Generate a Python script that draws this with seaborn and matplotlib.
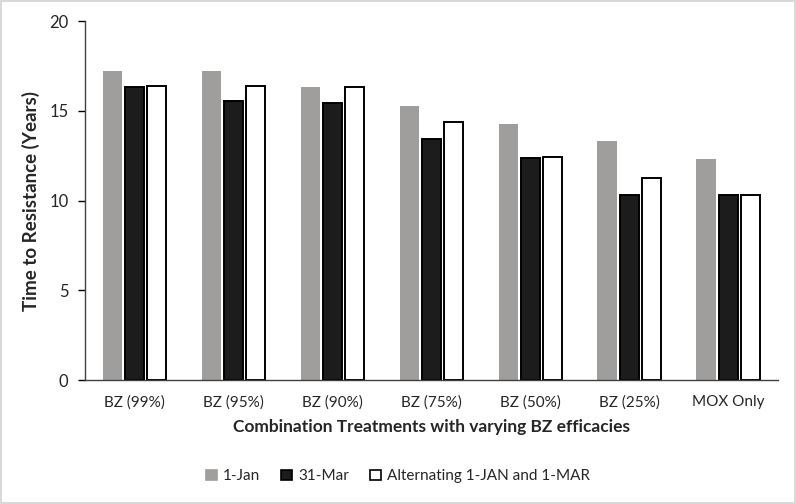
import pandas as pd
import matplotlib.pyplot as plt
import seaborn as sns
from matplotlib.patches import Patch

# Time to resistance (years)
treatments = ['BZ (99%)', 'BZ (95%)', 'BZ (90%)', 'BZ (75%)', 'BZ (50%)', 'BZ (25%)', 'MOX Only']
series = ['1-Jan', '31-Mar', 'Alternating 1-JAN and 1-MAR']
jan = [17.25, 17.25, 16.35, 15.25, 14.27, 13.32, 12.3]
mar = [16.35, 15.55, 15.45, 13.45, 12.38, 10.33, 10.33]
alt = [16.38, 16.38, 16.35, 14.38, 12.42, 11.25, 10.33]

colors = ['#a19e9c', '#1c1c1c', '#ffffff']
edges = ['#a19e9c', '#000000', '#000000']

df = pd.DataFrame({
    'Treatment': treatments * 3,
    'Series': [s for s in series for _ in treatments],
    'Years': jan + mar + alt,
})

sns.set_style('white')
plt.rcParams['font.family'] = ['Lato', 'DejaVu Sans']

fig = plt.figure(figsize=(7.96, 5.04), dpi=100)
fig.patch.set_edgecolor('#d9d9d9')
fig.patch.set_linewidth(1.5)
ax = fig.add_axes([0.107, 0.246, 0.87, 0.712])

sns.barplot(data=df, x='Treatment', y='Years', hue='Series', order=treatments,
            hue_order=series, palette=colors, width=0.67, gap=0.12,
            legend=False, ax=ax)

# style each hue group's bars
for cont, ec in zip(ax.containers, edges):
    for bar in cont:
        bar.set_edgecolor(ec)
        bar.set_linewidth(1.4 if ec == '#000000' else 0)

ax.set_ylim(0, 20)
ax.set_yticks([0, 5, 10, 15, 20])
ax.set_xlim(-0.5, len(treatments) - 0.5)
ax.set_ylabel('Time to Resistance (Years)', fontsize=13.5, fontweight='bold', labelpad=7)
ax.set_xlabel('Combination Treatments with varying BZ efficacies', fontsize=12.5,
              fontweight='bold', labelpad=6.5)
ax.tick_params(axis='y', length=5, width=1, color='#000000', labelsize=12, direction='out',
               left=True, pad=7)
ax.tick_params(axis='x', length=0, labelsize=11, pad=11)
sns.despine(ax=ax)
for side in ['left', 'bottom']:
    ax.spines[side].set_color('#404040')
    ax.spines[side].set_linewidth(1)

handles = [Patch(facecolor=c, edgecolor=e, linewidth=1.2) for c, e in zip(colors, edges)]
fig.legend(handles, series, loc='center', bbox_to_anchor=(0.5, 0.055), ncol=3,
           frameon=False, fontsize=11, handlelength=0.7, handleheight=0.7,
           handletextpad=0.4, columnspacing=1.4)

fig.savefig('out.png', dpi=100, edgecolor=fig.get_edgecolor())
